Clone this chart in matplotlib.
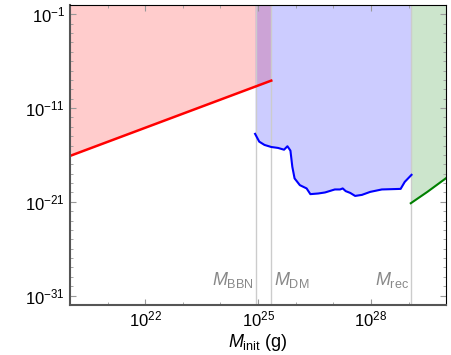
import numpy as np
import matplotlib
matplotlib.use("Agg")
import matplotlib.pyplot as plt
from matplotlib.ticker import LogLocator, NullFormatter

plt.rcParams['font.family'] = ['Liberation Sans', 'DejaVu Sans']
plt.rcParams['mathtext.fontset'] = 'custom'
plt.rcParams['mathtext.rm'] = 'Liberation Sans'
plt.rcParams['mathtext.it'] = 'Liberation Sans:italic'

# log10 of mass (g) and bound
red_logm = [20.0, 25.35]
red_logy = [-16.1, -8.07]

blue_logm = [24.92, 25.03, 25.17, 25.35, 25.53, 25.69, 25.78, 25.86, 25.91, 25.97,
             26.11, 26.29, 26.39, 26.60, 26.78, 27.04, 27.18, 27.25, 27.33, 27.45,
             27.58, 27.76, 27.98, 28.29, 28.79, 28.90, 29.08]
blue_logy = [-13.75, -14.58, -14.93, -15.15, -15.25, -15.44, -15.07, -15.54, -17.26, -18.50,
             -19.22, -19.57, -20.18, -20.11, -20.00, -19.68, -19.68, -19.57, -19.86, -20.05,
             -20.37, -20.26, -19.94, -19.68, -19.62, -18.87, -18.12]

green_logm = [29.06, 29.5, 30.0]
green_logy = [-21.15, -19.94, -18.47]

log_m_bbn = 24.95
log_m_dm = 25.33
log_m_rec = 29.06

fig = plt.figure(figsize=(4.52, 3.55), dpi=100)
ax = fig.add_axes([0.155, 0.141, 0.832, 0.845])

top = 1.0
rx = 10 ** np.array(red_logm)
ry = 10 ** np.array(red_logy)
bx = 10 ** np.array(blue_logm)
by = 10 ** np.array(blue_logy)
gx = 10 ** np.array(green_logm)
gy = 10 ** np.array(green_logy)

ax.fill_between(rx, ry, top, color='red', alpha=0.2, lw=0)
ax.fill_between(bx, by, top, color='blue', alpha=0.2, lw=0)
ax.fill_between(gx, gy, top, color='green', alpha=0.2, lw=0)

for lm in [log_m_bbn, log_m_dm, log_m_rec]:
    ax.axvline(10 ** lm, color='#cccccc', lw=1.0, zorder=1)

ax.plot(rx, ry, color='red', lw=1.8)
ax.plot(bx, by, color='blue', lw=1.5)
ax.plot(gx, gy, color='green', lw=1.5)

ax.set_xscale('log')
ax.set_yscale('log')
ax.set_xlim(1e20, 1e30)
ax.set_ylim(1e-32, 1)

ax.set_xticks([1e22, 1e25, 1e28])
ax.set_xticklabels([r'$10^{22}$', r'$10^{25}$', r'$10^{28}$'])
ax.xaxis.set_minor_locator(LogLocator(base=10, subs=[1.0], numticks=20))
ax.xaxis.set_minor_formatter(NullFormatter())
ax.set_yticks([1e-1, 1e-11, 1e-21, 1e-31])
ax.set_yticklabels([r'$10^{-1}$', r'$10^{-11}$', r'$10^{-21}$', r'$10^{-31}$'])
ax.yaxis.set_minor_locator(LogLocator(base=10, subs=[1.0], numticks=40))
ax.yaxis.set_minor_formatter(NullFormatter())

ax.tick_params(which='both', direction='in', top=True, right=True, labelsize=12,
               color='#999999')
ax.tick_params(which='major', length=4)
ax.tick_params(which='minor', length=2)

for s in ['left', 'bottom']:
    ax.spines[s].set_color('#555555')
    ax.spines[s].set_linewidth(1.5)

ly = 10 ** -29.3
ax.text(10 ** (log_m_bbn - 0.06), ly, r'$M_{\rm BBN}$', color='#888888',
        fontsize=13, ha='right', va='center')
ax.text(10 ** (log_m_dm + 0.1), ly, r'$M_{\rm DM}$', color='#888888',
        fontsize=13, ha='left', va='center')
ax.text(10 ** (log_m_rec - 0.03), ly, r'$M_{\rm rec}$', color='#888888',
        fontsize=13, ha='right', va='center')

ax.set_xlabel(r'$M_{\rm init}$ (g)', fontsize=13, labelpad=2)

fig.savefig('out.png', dpi=100)
